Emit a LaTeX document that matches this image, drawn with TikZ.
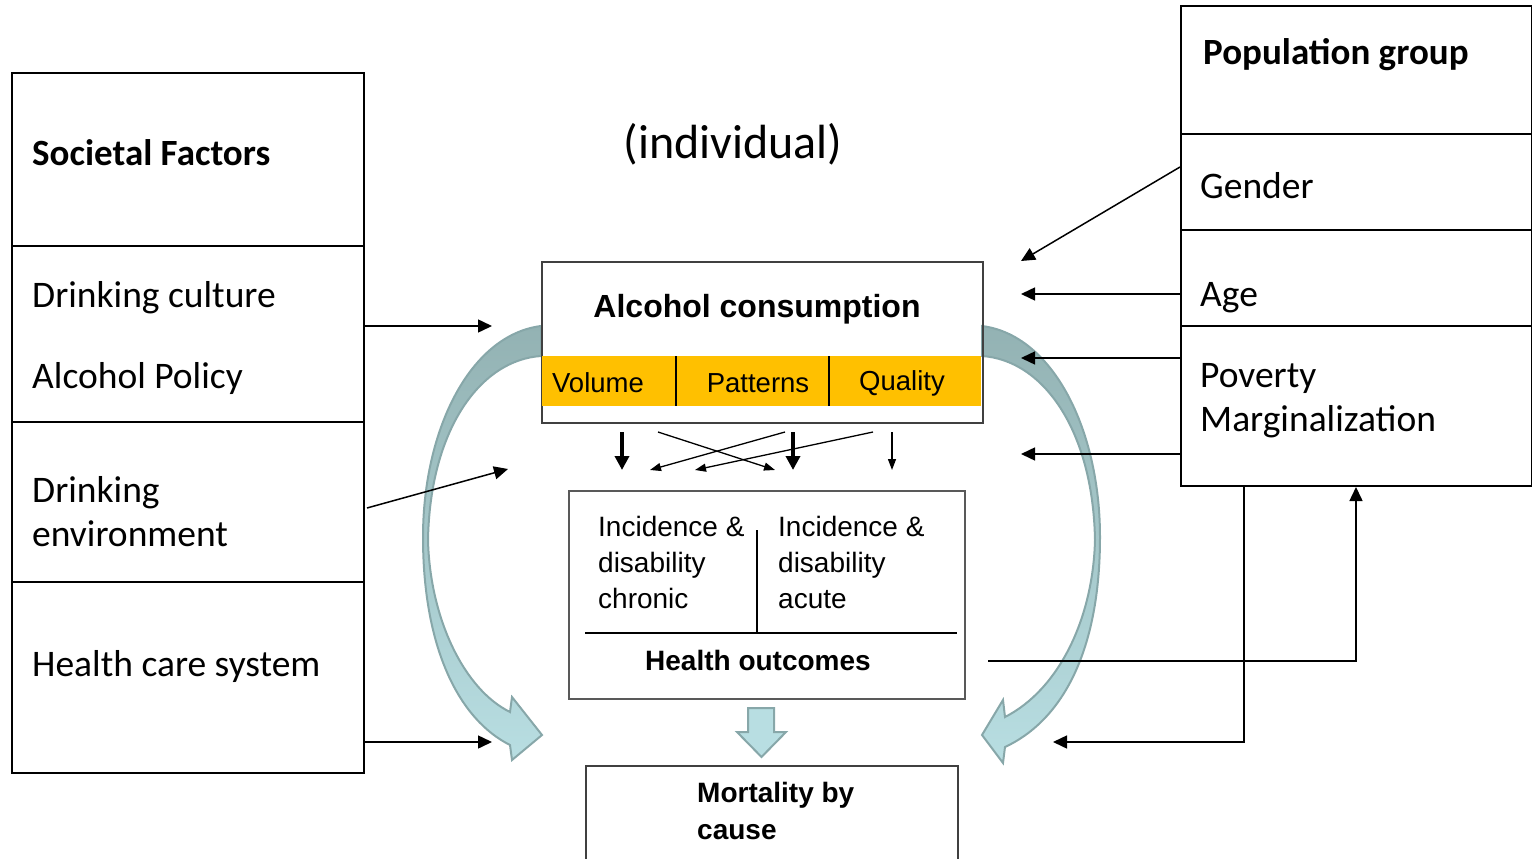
\documentclass[tikz,border=0pt]{standalone}
\usepackage{fontspec}
\setmainfont{Carlito}
\newfontfamily\arialf{Liberation Sans}
\usetikzlibrary{arrows.meta}
\definecolor{orng}{HTML}{FFC000}
\definecolor{tdark}{HTML}{93B2B3}
\definecolor{tlight}{HTML}{B8DEE2}
\definecolor{tedge}{HTML}{87A7A9}
\definecolor{boxgray}{HTML}{404040}
\definecolor{hgray}{HTML}{595959}
\begin{document}
\begin{tikzpicture}[x=1pt,y=-1pt,
  cell/.style={draw=black,line width=2pt,anchor=north west,inner sep=0pt},
  cal/.style={font=\fontsize{37.5}{44}\selectfont, inner sep=0pt, anchor=west, align=left},
  calb/.style={font=\fontsize{37}{44}\selectfont\bfseries, inner sep=0pt, anchor=west},
  ar/.style={font=\arialf\fontsize{28}{36}\selectfont, inner sep=0pt, align=left},
  arb/.style={font=\arialf\bfseries\fontsize{28}{37}\selectfont, inner sep=0pt, align=left},
  conn/.style={line width=1.5pt,-{Triangle[length=14pt,width=13pt]}},
  fatarr/.style={line width=3.5pt,-{Triangle[length=14pt,width=14pt]}},
  slimarr/.style={line width=1.3pt,-{Triangle[length=11pt,width=8pt]}},
  block/.style={draw=tedge, line width=2pt},
]
\useasboundingbox (0,0) rectangle (1532,859);

% curved block arrows (behind)
\path[block, top color=tdark, middle color=tdark!80!tlight, bottom color=tlight]
  (541,326) .. controls (470,335) and (423,430) .. (423,537)
  .. controls (423,650) and (460,720) .. (510,745)
  -- (512,760) -- (542,735) -- (512,697) -- (510,712)
  .. controls (465,690) and (430,620) .. (428,540)
  .. controls (430,430) and (480,360) .. (541,356) -- cycle;
\path[block, top color=tdark, middle color=tdark!80!tlight, bottom color=tlight]
  (982,326) .. controls (1053,335) and (1100,430) .. (1100,537)
  .. controls (1100,650) and (1063,720) .. (1005,747)
  -- (1003,763) -- (982,735) -- (1003,700) -- (1005,717)
  .. controls (1058,690) and (1093,620) .. (1095,540)
  .. controls (1093,430) and (1043,360) .. (982,356) -- cycle;

% left box
\node[cell,minimum width=352pt,minimum height=173pt] (sf) at (11,72) {};
\node[cell,minimum width=352pt,minimum height=176pt] (dc) at (11,245) {};
\node[cell,minimum width=352pt,minimum height=160pt] (de) at (11,421) {};
\node[cell,minimum width=352pt,minimum height=191pt] (hc) at (11,581) {};
\node[calb] (tsf) at (32,153) {Societal Factors};
\node[cal] (tdc) at (32,298) {Drinking culture};
\node[cal] (tap) at (32,378) {Alcohol Policy};
\node[cal] (tde) at (32,512) {Drinking\\environment};
\node[cal] (thc) at (32,666) {Health care system};

% right box
\node[cell,minimum width=351pt,minimum height=128pt] (pg) at (1180,5) {};
\node[cell,minimum width=351pt,minimum height=96pt] (ge) at (1180,133) {};
\node[cell,minimum width=351pt,minimum height=96pt] (ag) at (1180,229) {};
\node[cell,minimum width=351pt,minimum height=160pt] (pm) at (1180,325) {};
\node[calb] (tpg) at (1203,55) {Population group};
\node[cal] (tge) at (1200,186) {Gender};
\node[cal] (tag) at (1200,298) {Age};
\node[cal] (tpm) at (1200,401) {Poverty\\Marginalization};

% title
\node[font=\fontsize{48}{56}\selectfont, inner sep=0pt] (ind) at (733,144) {(individual)};

% alcohol consumption
\node[draw=boxgray,line width=1.5pt,anchor=north west,minimum width=441pt,minimum height=161pt,inner sep=0pt] (ac) at (541,261) {};
\fill[orng] (542,356) rectangle (981,406);
\draw[line width=2.5pt] (676,356) -- (676,406);
\draw[line width=2.5pt] (829,356) -- (829,406);
\node[arb,font=\arialf\bfseries\fontsize{32}{38}\selectfont] (tac) at (757,309) {Alcohol consumption};
\node[ar,font=\arialf\fontsize{27.5}{33}\selectfont] (vol) at (598,383) {Volume};
\node[ar,font=\arialf\fontsize{27.5}{33}\selectfont] (pat) at (758,383) {Patterns};
\node[ar,font=\arialf\fontsize{27.5}{33}\selectfont] (qua) at (902,383) {Quality};

% health outcomes
\node[draw=hgray,line width=1.5pt,anchor=north west,minimum width=396pt,minimum height=208pt,inner sep=0pt] (ho) at (568,490) {};
\draw[line width=2pt] (585,633) -- (957,633);
\draw[line width=2pt] (757,530) -- (757,633);
\node[ar,anchor=west] (chr) at (598,562) {Incidence \&\\disability\\chronic};
\node[ar,anchor=west] (acu) at (778,562) {Incidence \&\\disability\\acute};
\node[arb] (tho) at (758,660) {Health outcomes};

% down block arrow
\path[block, fill=tlight] (748,708) -- (774,708) -- (774,732) -- (786,732) -- (761.5,757) -- (737,732) -- (748,732) -- cycle;

% mortality
\draw[line width=1.5pt, draw=boxgray] (586,859) -- (586,766) -- (958,766) -- (958,859);
\node[arb,anchor=west] (mor) at (697,811) {Mortality by\\cause};

% small arrows between consumption and outcomes
\coordinate (s1) at (622,432); \coordinate (e1) at (622,470);
\coordinate (s2) at (793,432); \coordinate (e2) at (793,470);
\coordinate (s3) at (892,432); \coordinate (e3) at (892,470);
\coordinate (s4) at (658,432); \coordinate (e4) at (775,470);
\coordinate (s5) at (785,432); \coordinate (e5) at (650,470);
\coordinate (s6) at (873,432); \coordinate (e6) at (695,470);
\draw[fatarr] (s1) -- (e1);
\draw[fatarr] (s2) -- (e2);
\draw[slimarr] (s3) -- (e3);
\draw[slimarr] (s4) -- (e4);
\draw[slimarr] (s5) -- (e5);
\draw[slimarr] (s6) -- (e6);

% connectors from left
\coordinate (l1) at (492,326);
\coordinate (l2s) at (367,508); \coordinate (l2) at (508,469);
\coordinate (l3) at (492,742);
\draw[conn] (dc.east |- l1) -- (l1);
\draw[conn] (l2s) -- (l2);
\draw[conn] (hc.east |- l3) -- (l3);

% connectors from right
\coordinate (r1s) at (1180,167); \coordinate (r1) at (1021,261);
\coordinate (r2) at (1021,294);
\coordinate (r3) at (1021,358);
\coordinate (r4) at (1021,454);
\draw[conn] (r1s) -- (r1);
\draw[conn] (ag.west |- r2) -- (r2);
\draw[conn] (pm.west |- r3) -- (r3);
\draw[conn] (pm.west |- r4) -- (r4);
\coordinate (h1) at (988,661);
\coordinate (h2) at (1356,487);
\draw[conn] (h1) -| (h2);
\coordinate (b1) at (1244,486);
\coordinate (b2) at (1053,742);
\draw[conn] (b1) |- (b2);
\end{tikzpicture}
\end{document}
